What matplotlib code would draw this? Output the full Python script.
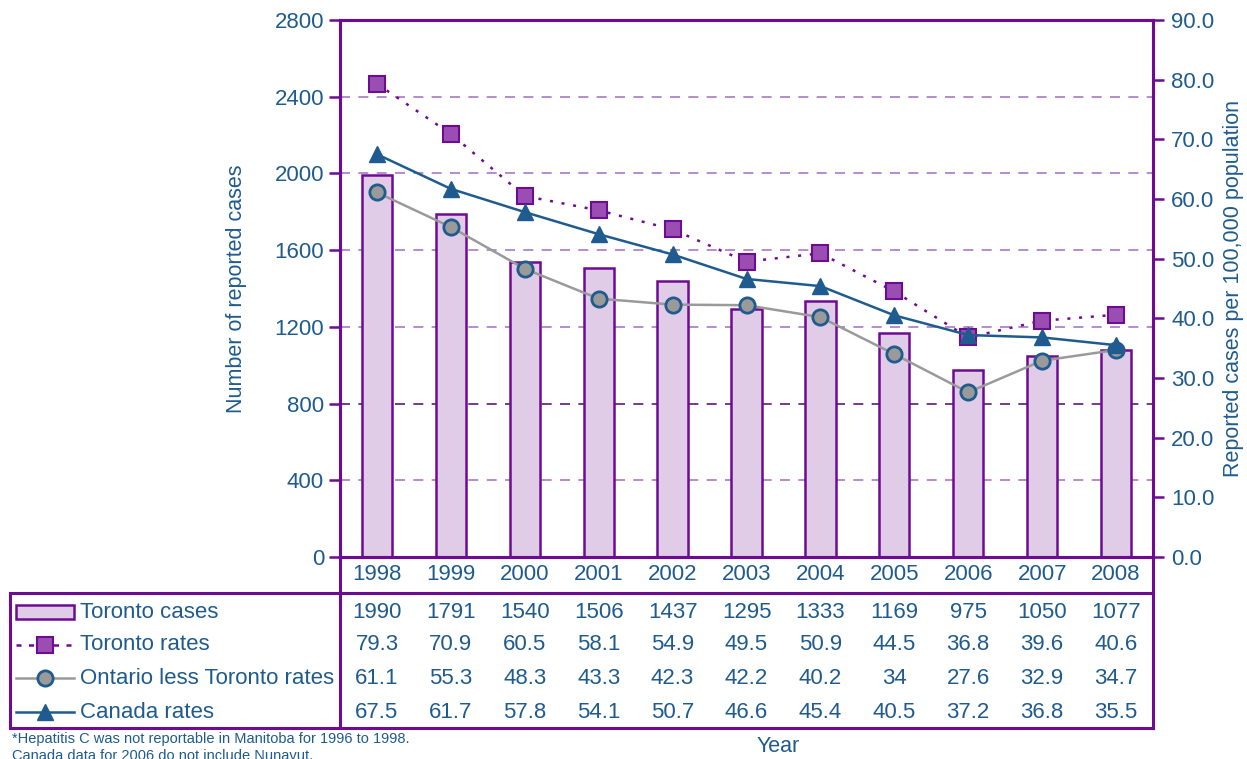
import matplotlib.pyplot as plt
import matplotlib.transforms as mtransforms
from matplotlib.lines import Line2D
from matplotlib.patches import Rectangle

plt.rcParams['font.family'] = ['Liberation Sans', 'DejaVu Sans']

years = [1998, 1999, 2000, 2001, 2002, 2003, 2004, 2005, 2006, 2007, 2008]
toronto_cases = [1990, 1791, 1540, 1506, 1437, 1295, 1333, 1169, 975, 1050, 1077]
toronto_rates = [79.3, 70.9, 60.5, 58.1, 54.9, 49.5, 50.9, 44.5, 36.8, 39.6, 40.6]
ontario_rates = [61.1, 55.3, 48.3, 43.3, 42.3, 42.2, 40.2, 34, 27.6, 32.9, 34.7]
canada_rates = [67.5, 61.7, 57.8, 54.1, 50.7, 46.6, 45.4, 40.5, 37.2, 36.8, 35.5]
table_labels = ['1990', '1791', '1540', '1506', '1437', '1295', '1333', '1169', '975', '1050', '1077']

blue = '#1f5b8e'
purple = '#6e0b93'
light_purple = '#e0cce7'
sq_fill = '#9a4eb2'
grey = '#9a9a9a'
fs = 16

W, H = 1247, 759
fig = plt.figure(figsize=(W / 100, H / 100), dpi=100)


def fx(x):
    return x / W


def fy(y):
    return 1 - y / H


ax = fig.add_axes([fx(340), fy(557), fx(1153) - fx(340), fy(20) - fy(557)])
ax2 = ax.twinx()

# bars and grid
for v in range(400, 2800, 400):
    c = '#5a1a7a' if v == 800 else '#a878c8'
    ax.axhline(v, color=c, lw=1.2, ls=(0, (6, 5)), zorder=0)
ax.bar(years, toronto_cases, width=0.41, color=light_purple, edgecolor=purple, lw=1.8, zorder=2)
ax.set_xlim(1997.5, 2008.5)
ax.set_ylim(0, 2800)
ax.set_yticks(range(0, 2801, 400))
ax.set_xticks([])

ax2.plot(years, toronto_rates, color=purple, lw=1.8, ls=(0, (1.2, 3.5)), marker='s', ms=11,
         mfc=sq_fill, mec=purple, mew=1.5, zorder=5)
ax2.plot(years, ontario_rates, color=grey, lw=1.8, marker='o', ms=11,
         mfc=grey, mec=blue, mew=2, zorder=5)
ax2.plot(years, canada_rates, color=blue, lw=1.8, marker='^', ms=12,
         mfc=blue, mec=blue, zorder=5)
ax2.set_ylim(0, 90)
ax2.set_yticks(range(0, 91, 10))
ax2.set_yticklabels(['%.1f' % v for v in range(0, 91, 10)])

for a in (ax, ax2):
    for s in a.spines.values():
        s.set_color(purple)
        s.set_linewidth(2.2)
    a.tick_params(axis='y', colors=purple, labelcolor=blue, labelsize=fs, length=8, width=1.8)
ax2.tick_params(axis='y', pad=5)
ax.set_ylabel('Number of reported cases', color=blue, fontsize=fs - 0.5, labelpad=20)
ax2.set_ylabel('Reported cases per 100,000 population', color=blue, fontsize=fs - 0.5, labelpad=6)

# data table below the chart
trans = mtransforms.blended_transform_factory(ax.transData, fig.transFigure)


def hline(y, x0, x1, lw=2.2):
    fig.add_artist(Line2D([fx(x0), fx(x1)], [fy(y), fy(y)], color=purple, lw=lw, transform=fig.transFigure))


def vline(x, y0, y1, lw=2.2):
    fig.add_artist(Line2D([fx(x), fx(x)], [fy(y0), fy(y1)], color=purple, lw=lw, transform=fig.transFigure))


hline(593, 10, 1153)
hline(728, 10, 1153)
vline(10, 593, 728)
vline(340, 557, 728)
vline(1153, 557, 728)

for yr in years:
    fig.text(yr, fy(575), str(yr), transform=trans, ha='center', va='center', color=blue, fontsize=fs)

rows = [table_labels, toronto_rates, ontario_rates, canada_rates]
row_y = [612, 645, 678, 712]
for vals, yy in zip(rows, row_y):
    for yr, v in zip(years, vals):
        fig.text(yr, fy(yy), str(v), transform=trans, ha='center', va='center', color=blue, fontsize=fs)

names = ['Toronto cases', 'Toronto rates', 'Ontario less Toronto rates', 'Canada rates']
for nm, yy in zip(names, row_y):
    fig.text(fx(80), fy(yy), nm, ha='left', va='center', color=blue, fontsize=fs)

fig.add_artist(Rectangle((fx(16), fy(619)), fx(74) - fx(16), fy(605) - fy(619), transform=fig.transFigure,
                         facecolor=light_purple, edgecolor=purple, lw=1.8))
fig.add_artist(Line2D([fx(16), fx(74)], [fy(645), fy(645)], color=purple, lw=1.8, ls=(0, (2, 3)),
                      transform=fig.transFigure))
fig.add_artist(Line2D([fx(45)], [fy(645)], marker='s', ms=11, mfc=sq_fill, mec=purple, mew=1.5,
                      transform=fig.transFigure))
fig.add_artist(Line2D([fx(16), fx(45), fx(74)], [fy(678)] * 3, color=grey, lw=1.8, marker='o', ms=11,
                      markevery=[1], mfc=grey, mec=blue, mew=2, transform=fig.transFigure))
fig.add_artist(Line2D([fx(16), fx(45), fx(74)], [fy(712)] * 3, color=blue, lw=1.8, marker='^', ms=12,
                      markevery=[1], mfc=blue, mec=blue, transform=fig.transFigure))

fig.text(fx(778), fy(746), 'Year', ha='center', va='center', color=blue, fontsize=fs - 0.5)
fig.text(fx(12), fy(739), '*Hepatitis C was not reportable in Manitoba for 1996 to 1998.',
         ha='left', va='center', color=blue, fontsize=10.5)
fig.text(fx(12), fy(756), 'Canada data for 2006 do not include Nunavut.',
         ha='left', va='center', color=blue, fontsize=10.5)

fig.savefig('out.png', dpi=100)
